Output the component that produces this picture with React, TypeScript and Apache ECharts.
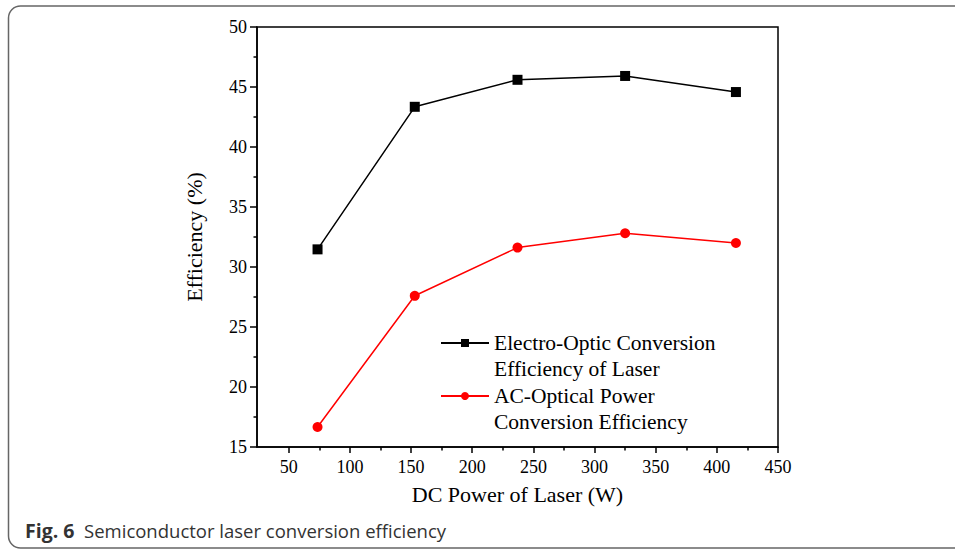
import React, { useEffect, useRef } from "react";
import * as echarts from "echarts";

// ---- data ----
const dcPower = [73.5, 153, 237, 325, 415.6];
const electroOpticEff = [31.47, 43.35, 45.6, 45.92, 44.58];
const acOpticalEff = [16.67, 27.6, 31.62, 32.81, 32.0];
const seriesNames = [
  "Electro-Optic Conversion\nEfficiency of Laser",
  "AC-Optical Power\nConversion Efficiency",
];
const xMajorTicks = [50, 100, 150, 200, 250, 300, 350, 400, 450];
const xMinorTicks = [75, 125, 175, 225, 275, 325, 375, 425];
const xRange = [24, 450];
const yRange = [15, 50];
const yStep = 5;
const xAxisTitle = "DC Power of Laser (W)";
const yAxisTitle = "Efficiency (%)";
const captionBold = "Fig. 6";
const captionText = "Semiconductor laser conversion efficiency";

const SERIF = "'Liberation Serif', 'Times New Roman', serif";

export default function App() {
  const ref = useRef<HTMLDivElement>(null);

  useEffect(() => {
    if (!ref.current) return;
    const chart = echarts.init(ref.current, undefined, { renderer: "svg" });
    const axisLine = { show: true, lineStyle: { color: "#000", width: 1.5 } };
    chart.setOption({
      animation: false,
      backgroundColor: "#fff",
      grid: {
        left: 257,
        right: 177,
        top: 27,
        bottom: 103,
        show: true,
        borderColor: "#000",
        borderWidth: 1.5,
        backgroundColor: "transparent",
      },
      legend: {
        orient: "vertical",
        left: 440,
        top: 304,
        padding: 0,
        itemGap: -25,
        itemWidth: 48,
        itemHeight: 10,
        data: seriesNames,
        formatter: (name: string) => "\n" + name,
        textStyle: {
          fontFamily: SERIF,
          fontSize: 21.5,
          color: "#000",
          lineHeight: 26,
        },
      },
      xAxis: [
        {
          type: "value",
          min: xRange[0],
          max: xRange[1],
          position: "bottom",
          name: xAxisTitle,
          nameLocation: "middle",
          nameGap: 36,
          nameTextStyle: { fontFamily: SERIF, fontSize: 22, color: "#000" },
          axisLine,
          axisTick: {
            show: true,
            length: 6,
            inside: false,
            customValues: xMajorTicks,
            lineStyle: { color: "#000", width: 1.5 },
          },
          axisLabel: {
            customValues: xMajorTicks,
            fontFamily: SERIF,
            fontSize: 18,
            color: "#000",
            margin: 11,
          },
          splitLine: { show: false },
        },
        {
          type: "value",
          min: xRange[0],
          max: xRange[1],
          position: "bottom",
          axisLine: { show: false },
          axisTick: {
            show: true,
            length: 3.5,
            inside: false,
            customValues: xMinorTicks,
            lineStyle: { color: "#000", width: 1.5 },
          },
          axisLabel: { show: false },
          splitLine: { show: false },
        },
      ],
      yAxis: {
        type: "value",
        min: yRange[0],
        max: yRange[1],
        interval: yStep,
        name: yAxisTitle,
        nameLocation: "middle",
        nameGap: 52,
        nameTextStyle: { fontFamily: SERIF, fontSize: 22, color: "#000" },
        axisLine,
        axisTick: {
          show: true,
          length: 7,
          inside: false,
          lineStyle: { color: "#000", width: 1.5 },
        },
        minorTick: {
          show: true,
          splitNumber: 2,
          length: 3.5,
          lineStyle: { color: "#000", width: 1.5 },
        },
        axisLabel: { fontFamily: SERIF, fontSize: 18, color: "#000", margin: 10 },
        splitLine: { show: false },
        minorSplitLine: { show: false },
      },
      series: [
        {
          type: "line",
          name: seriesNames[0],
          data: dcPower.map((x, i) => [x, electroOpticEff[i]]),
          symbol: "rect",
          symbolSize: 10,
          itemStyle: { color: "#000" },
          lineStyle: { color: "#000", width: 1.5 },
        },
        {
          type: "line",
          name: seriesNames[1],
          data: dcPower.map((x, i) => [x, acOpticalEff[i]]),
          symbol: "circle",
          symbolSize: 10,
          itemStyle: { color: "#ff0000" },
          lineStyle: { color: "#ff0000", width: 1.5 },
        },
      ],
      graphic: [
        {
          type: "rect",
          shape: { x: 8.5, y: 6, width: 1000, height: 542, r: 12 },
          style: { fill: "none", stroke: "#666", lineWidth: 1.5 },
          silent: true,
          z: -1,
        },
        {
          type: "text",
          x: 25,
          y: 530,
          style: {
            text: `{b|${captionBold}}{r|  ${captionText}}`,
            verticalAlign: "middle",
            rich: {
              b: { fontFamily: "'Open Sans', sans-serif", fontWeight: "bold", fontSize: 19.5, fill: "#333" },
              r: { fontFamily: "'Open Sans', sans-serif", fontSize: 18.5, fill: "#333" },
            },
          },
        },
      ],
    });
    return () => chart.dispose();
  }, []);

  return (
    <div
      ref={ref}
      style={{ position: "fixed", left: 0, top: 0, width: 955, height: 550, background: "#fff" }}
    />
  );
}
